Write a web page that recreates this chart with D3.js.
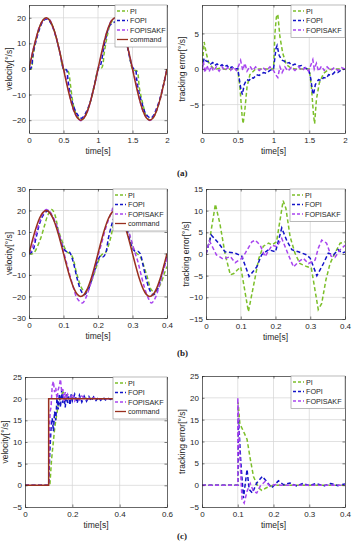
<!DOCTYPE html>
<html>
<head>
<meta charset="utf-8">
<script src="https://cdn.jsdelivr.net/npm/d3@7"></script>
<style>
  body { margin: 0; background: #fff; }
  svg { display: block; font-family: "Liberation Sans", Arial, sans-serif; }
</style>
</head>
<body>
<script>
// ---- data ----

// (a) 1 Hz sine tracking
var timeA = [0,0.05,0.1,0.15,0.2,0.25,0.3,0.35,0.4,0.45,0.5,0.55,0.6,0.65,0.7,0.75,0.8,0.85,0.9,0.95,1,1.05,1.1,1.15,1.2,1.25,1.3,1.35,1.4,1.45,1.5,1.55,1.6,1.65,1.7,1.75,1.8,1.85,1.9,1.95,2]
var commandA = [0,6.18,11.76,16.18,19.02,20,19.02,16.18,11.76,6.18,0,-6.18,-11.76,-16.18,-19.02,-20,-19.02,-16.18,-11.76,-6.18,0,6.18,11.76,16.18,19.02,20,19.02,16.18,11.76,6.18,0,-6.18,-11.76,-16.18,-19.02,-20,-19.02,-16.18,-11.76,-6.18,0]
var timePIa = [0,0.03,0.06,0.1,0.15,0.2,0.25,0.3,0.35,0.4,0.45,0.5,0.53,0.565,0.6,0.63,0.67,0.75,0.8,0.85,0.9,0.95,1,1.02,1.055,1.09,1.13,1.18,1.25,1.3,1.35,1.4,1.45,1.5,1.53,1.565,1.6,1.64,1.7,1.75,1.8,1.85,1.9,1.95,2]
var velPIa = [0,0,5.2,11,16,19,20,19,16.2,11.8,6.2,0,-0.5,-0.8,-6.1,-12.1,-16.7,-20,-19,-16.2,-11.8,-6.2,0,0.5,0.5,6.2,12.4,17.5,20,19,16.2,11.8,6.2,0,-0.5,-0.8,-7.5,-12.6,-18.4,-20,-19,-16.2,-11.8,-6.2,0]
var timeFOPIa = [0,0.03,0.06,0.1,0.15,0.2,0.25,0.3,0.35,0.4,0.45,0.5,0.52,0.545,0.565,0.59,0.625,0.69,0.76,0.86,0.95,1.01,1.035,1.05,1.08,1.115,1.18,1.3,1.39,1.49,1.52,1.545,1.56,1.585,1.63,1.7,1.77,1.86,1.95,2]
var velFOPIa = [0,0.5,6.2,10.8,15.4,18.5,19.5,18.6,15.9,11.6,6.1,0.1,0,-0.4,-4.3,-8.6,-12.7,-17.3,-19.2,-15,-6,0.5,1.4,2.9,7.7,12.2,17.3,18.5,12.6,1.3,0,-0.4,-3.8,-8.1,-12.7,-17.8,-19.1,-14.6,-6.1,0]
var velSAKFa = [0,6.5,11.5,16.5,18.8,19.8,19.2,16,11.9,6,0.3,-5.2,-11.5,-16.5,-18.8,-20.2,-18.8,-16.4,-11.6,-6.3,0,5.5,11.9,16,19.1,19.8,19.2,16.3,11.6,6.4,0.2,-5.3,-11.6,-16.4,-18.9,-20.1,-18.9,-16.1,-11.9,-6.2,0]

var timeErrPIa = [0,0.03,0.06,0.09,0.12,0.16,0.2,0.25,0.3,0.35,0.4,0.45,0.5,0.53,0.56,0.575,0.6,0.63,0.67,0.74,0.8,0.9,1,1.02,1.04,1.06,1.09,1.13,1.18,1.25,1.3,1.4,1.5,1.53,1.56,1.575,1.6,1.64,1.7,1.77,1.85,2]
var errPIa = [0,3.8,2.2,1,0.5,0.1,0,0.1,0,-0.1,0,0,0,-2.5,-6.5,-7.7,-5.7,-2.5,-0.8,-0.1,0,0,0,5,7.3,7.7,4.5,2.2,0.6,0.1,0,0,0,-2.5,-6.5,-7.7,-4.3,-2,-0.6,-0.1,0,0]
var timeErrFOPIa = [0,0.03,0.06,0.09,0.12,0.15,0.18,0.21,0.25,0.28,0.31,0.35,0.38,0.42,0.46,0.5,0.52,0.545,0.565,0.59,0.625,0.66,0.69,0.72,0.76,0.8,0.86,0.9,0.95,1,1.01,1.035,1.05,1.08,1.115,1.15,1.18,1.22,1.26,1.3,1.35,1.39,1.44,1.49,1.52,1.545,1.56,1.585,1.63,1.67,1.7,1.74,1.77,1.81,1.86,1.9,1.95,2]
var errFOPIa = [0,1.5,1.1,1,0.7,0.9,0.5,0.7,0.4,0.6,0.3,0.5,0.1,0.3,-0.1,0.1,-1.3,-2.9,-3.6,-2.2,-1.5,-1.6,-1.2,-1.3,-0.8,-0.9,-0.5,-0.6,-0.2,0,0.8,2.9,3.3,1.9,1.25,1.1,0.8,0.9,0.5,0.7,0.4,0.5,0.1,0,-1.3,-3.1,-3.6,-2.2,-1.5,-1.6,-1.2,-1.3,-0.8,-0.9,-0.4,-0.5,-0.1,0]
var timeErrSAKFa = [0,0.02,0.04,0.07,0.1,0.13,0.16,0.2,0.24,0.28,0.32,0.36,0.4,0.44,0.48,0.51,0.54,0.57,0.6,0.63,0.67,0.71,0.75,0.8,0.85,0.9,0.95,1,1.03,1.06,1.09,1.12,1.16,1.2,1.25,1.3,1.35,1.4,1.45,1.49,1.52,1.55,1.57,1.6,1.63,1.67,1.71,1.75,1.8,1.85,1.9,1.95,2]
var errSAKFa = [0,1,-0.5,0.5,-0.4,0.4,-0.3,0.3,-0.3,0.3,-0.2,0.2,-0.2,0.3,-0.2,0.4,1.2,-0.2,0.8,-0.3,0.4,-0.2,0.3,-0.2,0.2,-0.2,0.3,-0.2,-0.8,-1.2,0.3,-0.5,0.3,-0.3,0.2,-0.2,0.3,-0.2,0.2,-0.3,0.5,1.3,0,0.8,-0.3,0.4,-0.2,0.3,-0.2,0.2,-0.2,0.2,0]

// (b) 5 Hz sine tracking
var timeB = [0,0.01,0.02,0.03,0.04,0.05,0.06,0.07,0.08,0.09,0.1,0.11,0.12,0.13,0.14,0.15,0.16,0.17,0.18,0.19,0.2,0.21,0.22,0.23,0.24,0.25,0.26,0.27,0.28,0.29,0.3,0.31,0.32,0.33,0.34,0.35,0.36,0.37,0.38,0.39,0.4]
var commandB = [0,6.18,11.76,16.18,19.02,20,19.02,16.18,11.76,6.18,0,-6.18,-11.76,-16.18,-19.02,-20,-19.02,-16.18,-11.76,-6.18,0,6.18,11.76,16.18,19.02,20,19.02,16.18,11.76,6.18,0,-6.18,-11.76,-16.18,-19.02,-20,-19.02,-16.18,-11.76,-6.18,0]
var timePIb = [0,0.012,0.032,0.045,0.055,0.066,0.075,0.085,0.1,0.109,0.124,0.138,0.153,0.163,0.172,0.186,0.198,0.21,0.222,0.235,0.249,0.262,0.27,0.278,0.293,0.307,0.322,0.341,0.355,0.365,0.38,0.393,0.4]
var velPIb = [0,0,6.3,13,18,20.5,18,11,4,1,-1,-9.2,-16.2,-17.8,-16.2,-10.8,-5,-0.7,0.5,6.3,15.6,19.4,20,17,7.8,1,-1.5,-10,-17,-17.8,-14.6,-9,-6]
var timeFOPIb = [0,0.01,0.02,0.03,0.04,0.05,0.056,0.065,0.08,0.09,0.1,0.108,0.115,0.12,0.13,0.14,0.15,0.16,0.17,0.18,0.19,0.2,0.208,0.215,0.222,0.23,0.24,0.25,0.258,0.265,0.28,0.29,0.3,0.308,0.316,0.322,0.33,0.34,0.35,0.36,0.37,0.38,0.39,0.4]
var velFOPIb = [0,1,7,13.5,17.5,19.5,20,18,12.5,7,2.5,1,1,0,-5,-12,-17,-19.2,-17.5,-13,-8,-3,-1,-1.5,0,7,13.5,18,20,19,13,7.5,2.5,1,1,0,-5,-12,-17,-19.2,-17.5,-13,-7,-1.5]
var timeSAKFb = [0,0.01,0.02,0.03,0.04,0.05,0.06,0.07,0.08,0.09,0.1,0.11,0.12,0.13,0.14,0.155,0.165,0.175,0.185,0.195,0.2,0.21,0.22,0.23,0.24,0.245,0.255,0.265,0.275,0.285,0.295,0.305,0.315,0.325,0.335,0.345,0.355,0.365,0.375,0.385,0.395,0.4]
var velSAKFb = [0,3,9,14.5,18.5,20.5,19.5,17,13,7.5,1,-5,-11,-16.5,-21,-23,-20.5,-16,-10.5,-4,-1,4.5,10.5,15.5,19.5,22,20,19.5,17,12.5,7,1.5,-3.5,-10,-16,-20.5,-23,-21,-16.5,-10.5,-5,-2]

var timeErrPIb = [0,0.01,0.027,0.04,0.055,0.07,0.08,0.09,0.1,0.122,0.14,0.152,0.165,0.18,0.19,0.203,0.222,0.23,0.242,0.256,0.27,0.29,0.303,0.323,0.333,0.345,0.357,0.371,0.386,0.4]
var errPIb = [0,3,11.5,7,0,-4.8,-4.5,-3.7,-3,-13.3,-6,-1,1.8,2.5,2.1,2.8,12.3,10.5,4,0.2,-2.2,-2.9,-3.2,-12.8,-11.4,-6,-2.2,0.2,2.5,2.8]
var timeErrFOPIb = [0,0.015,0.036,0.055,0.084,0.103,0.124,0.146,0.16,0.18,0.2,0.218,0.233,0.247,0.266,0.29,0.3,0.319,0.338,0.352,0.367,0.38,0.392,0.4]
var errFOPIb = [0,4.4,2.5,0.5,0.2,-0.5,-5.2,-3,-0.2,1,0.5,6,3,1,0.5,-0.2,-1,-5,-2.2,0.2,-0.2,1,0.2,0.5]
var timeErrSAKFb = [0,0.01,0.03,0.05,0.07,0.084,0.103,0.113,0.132,0.142,0.156,0.17,0.19,0.204,0.218,0.237,0.252,0.266,0.28,0.295,0.314,0.323,0.333,0.347,0.36,0.371,0.386,0.4]
var errSAKFb = [0,3,-0.2,-1.2,-0.6,-2,-1,0.2,2.8,3.2,2,-0.6,2,1.7,3.6,-0.2,-3,-1.8,-1,-2.2,-1.4,1.3,3.2,2.5,-0.5,-0.8,1,2]

// (c) 20 deg/s step at 0.1 s
var timeCmdC = [0,0.1,0.1,0.4]
var commandC = [0,0,20,20]
var timePIc = [0,0.105,0.112,0.126,0.14,0.15,0.161,0.175,0.19,0.2,0.22,0.25,0.3,0.4]
var velPIc = [0,0,5.8,13.5,18.5,20.5,21.5,20.5,19.8,20.2,20,20.1,20,20]
var timeFOPIc = [0,0.1,0.105,0.11,0.115,0.12,0.125,0.13,0.135,0.14,0.145,0.15,0.155,0.16,0.165,0.17,0.175,0.18,0.185,0.19,0.195,0.2,0.21,0.22,0.23,0.24,0.25,0.26,0.27,0.28,0.29,0.3,0.31,0.32,0.33,0.34,0.35,0.36,0.38,0.4]
var velFOPIc = [0,0,8,13,15.5,12.5,17,15,20,17.5,21,18,22,19,20.5,18,21,19,20.5,18.5,21,19.5,21,19,20.8,19.2,20.6,19.4,20.5,19.5,20.4,19.6,20.3,19.6,20.3,19.7,20.2,19.8,20.1,20]
var timeSAKFc = [0,0.1,0.103,0.106,0.11,0.115,0.12,0.125,0.13,0.135,0.14,0.145,0.15,0.155,0.16,0.165,0.17,0.175,0.18,0.19,0.2,0.21,0.22,0.23,0.24,0.26,0.28,0.3,0.4]
var velSAKFc = [0,0,10,17,18,23,24,21.5,22.5,20,22,23,24.5,21.5,22.2,19.5,21.5,19.8,21,20,21,19.5,20.5,19.7,20.6,19.8,20.3,20,20]

var timeErrPIc = [0,0.1,0.101,0.106,0.115,0.126,0.135,0.144,0.158,0.167,0.18,0.2,0.4]
var errPIc = [0,0,19,14,12.5,10.5,6,2,-0.6,-1.2,-0.6,0,0]
var timeErrFOPIc = [0,0.1,0.102,0.108,0.116,0.126,0.132,0.141,0.153,0.169,0.18,0.195,0.214,0.228,0.246,0.265,0.283,0.3,0.32,0.34,0.36,0.38,0.4]
var errFOPIc = [0,0,15.5,6,-3,3.6,-1,-1.8,0.5,2,0.9,-0.6,1,0.1,0.5,-0.2,0.4,-0.1,0.4,-0.2,0.4,-0.1,0.3]
var timeErrSAKFc = [0,0.1,0.1001,0.105,0.112,0.118,0.126,0.135,0.144,0.153,0.163,0.177,0.19,0.205,0.22,0.4]
var errSAKFc = [0,0,20,8,-3.3,-4.1,-1.4,0.4,-1.4,-1.8,-0.2,0.9,-0.2,0.15,0,0]

var ticksA = [0,0.5,1,1.5,2]
var ticksB = [0,0.1,0.2,0.3,0.4]
var ticksC = [0,0.2,0.4,0.6]

// ---- drawing ----
var colPI = "#7cbf2a", colFOPI = "#1414c8", colSAKF = "#a845ef", colCmd = "#99301f"

var svg = d3.select("body").append("svg").attr("width", 355).attr("height", 550)

function zip(t, v) { return t.map(function(d, i) { return [d, v[i]] }) }

var clipId = 0
function panel(o) {
  var x = d3.scaleLinear().domain(o.xd).range([o.x0, o.x1])
  var y = d3.scaleLinear().domain(o.yd).range([o.y1, o.y0])
  var g = svg.append("g")
  var fmt = d3.format("~g")

  // grid
  g.selectAll(".gx").data(o.xt.slice(1, -1)).enter().append("line")
    .attr("x1", function(d) { return x(d) }).attr("x2", function(d) { return x(d) })
    .attr("y1", o.y0).attr("y2", o.y1).attr("stroke", "#d4d4d4").attr("stroke-width", 0.7)
  g.selectAll(".gy").data(o.yt.filter(function(d) { return d > o.yd[0] && d < o.yd[1] })).enter().append("line")
    .attr("y1", function(d) { return y(d) }).attr("y2", function(d) { return y(d) })
    .attr("x1", o.x0).attr("x2", o.x1).attr("stroke", "#d4d4d4").attr("stroke-width", 0.7)

  // series
  clipId++
  svg.append("clipPath").attr("id", "clip" + clipId).append("rect")
    .attr("x", o.x0).attr("y", o.y0).attr("width", o.x1 - o.x0).attr("height", o.y1 - o.y0)
  var sg = g.append("g").attr("clip-path", "url(#clip" + clipId + ")")
  o.series.forEach(function(s) {
    var line = d3.line().x(function(d) { return x(d[0]) }).y(function(d) { return y(d[1]) })
      .curve(s.smooth ? d3.curveCatmullRom : d3.curveLinear)
    sg.append("path").datum(zip(s.t, s.v)).attr("d", line)
      .attr("fill", "none").attr("stroke", s.color).attr("stroke-width", s.dash ? 1.5 : 1.5)
      .attr("stroke-dasharray", s.dash ? "4,2.5" : null)
  })

  // axes (inward ticks on all four sides)
  var ax = [
    [d3.axisBottom(x), "translate(0," + o.y1 + ")", true],
    [d3.axisTop(x), "translate(0," + o.y0 + ")", false],
  ]
  ax.forEach(function(a) {
    var gg = g.append("g").attr("transform", a[1])
      .call(a[0].tickValues(o.xt).tickSizeInner(-2.5).tickSizeOuter(0).tickPadding(4)
      .tickFormat(a[2] ? fmt : ""))
    styleAxis(gg)
  })
  var ay = [
    [d3.axisLeft(y), "translate(" + o.x0 + ",0)", true],
    [d3.axisRight(y), "translate(" + o.x1 + ",0)", false],
  ]
  ay.forEach(function(a) {
    var gg = g.append("g").attr("transform", a[1])
      .call(a[0].tickValues(o.yt).tickSizeInner(-2.5).tickSizeOuter(0).tickPadding(3)
      .tickFormat(a[2] ? fmt : ""))
    styleAxis(gg)
  })

  // labels
  g.append("text").attr("x", (o.x0 + o.x1) / 2).attr("y", o.y1 + 21)
    .attr("text-anchor", "middle").attr("font-size", 8.5).attr("fill", "#262626").text("time[s]")
  g.append("text").attr("transform", "translate(" + (o.x0 - 17) + "," + ((o.y0 + o.y1) / 2) + ") rotate(-90)")
    .attr("text-anchor", "middle").attr("font-size", 8.5).attr("fill", "#262626").text(o.ylabel)

  // legend
  var lg = g.append("g")
  var n = o.series.length
  var lx0 = o.x1 - o.legW
  lg.append("rect").attr("x", lx0).attr("y", o.y0).attr("width", o.legW).attr("height", 4 + n * 9.5)
    .attr("fill", "#fff").attr("stroke", "#8c8c8c").attr("stroke-width", 0.6)
  o.series.forEach(function(s, i) {
    var yy = o.y0 + 6 + i * 9.5
    lg.append("line").attr("x1", lx0 + 2).attr("x2", lx0 + 13).attr("y1", yy).attr("y2", yy)
      .attr("stroke", s.color).attr("stroke-width", 1.3).attr("stroke-dasharray", s.dash ? "3,2" : null)
    lg.append("text").attr("x", lx0 + 15).attr("y", yy + 2.5).attr("font-size", 7.2)
      .attr("fill", "#262626").text(s.name)
  })
}

function styleAxis(gg) {
  gg.select(".domain").attr("stroke", "#262626").attr("stroke-width", 0.7)
  gg.selectAll(".tick line").attr("stroke", "#262626").attr("stroke-width", 0.6)
  gg.selectAll(".tick text").attr("font-size", 8).attr("fill", "#262626")
    .attr("font-family", "Liberation Sans, Arial, sans-serif")
}

function velSeries(tPI, vPI, tF, vF, tS, vS, tC, vC, smooth) {
  return [
    {name: "PI", t: tPI, v: vPI, color: colPI, dash: true, smooth: smooth},
    {name: "FOPI", t: tF, v: vF, color: colFOPI, dash: true, smooth: smooth},
    {name: "FOPISAKF", t: tS, v: vS, color: colSAKF, dash: true, smooth: smooth},
    {name: "command", t: tC, v: vC, color: colCmd, dash: false, smooth: smooth}
  ]
}
function errSeries(tPI, vPI, tF, vF, tS, vS) {
  return [
    {name: "PI", t: tPI, v: vPI, color: colPI, dash: true},
    {name: "FOPI", t: tF, v: vF, color: colFOPI, dash: true},
    {name: "FOPISAKF", t: tS, v: vS, color: colSAKF, dash: true}
  ]
}

// (a)
panel({x0: 29, x1: 167, y0: 5, y1: 133, xd: [0, 2], yd: [-25, 25], xt: ticksA, yt: [-20, -10, 0, 10, 20],
  ylabel: "velocity[°/s]", legW: 52,
  series: velSeries(timePIa, velPIa, timeFOPIa, velFOPIa, timeA, velSAKFa, timeA, commandA, true)})
panel({x0: 202, x1: 345, y0: 5, y1: 133, xd: [0, 2], yd: [-9, 9], xt: ticksA, yt: [-5, 0, 5],
  ylabel: "tracking error[°/s]", legW: 54,
  series: errSeries(timeErrPIa, errPIa, timeErrFOPIa, errFOPIa, timeErrSAKFa, errSAKFa)})

// (b)
panel({x0: 29, x1: 167, y0: 189, y1: 318, xd: [0, 0.4], yd: [-30, 30], xt: ticksB, yt: [-30, -20, -10, 0, 10, 20, 30],
  ylabel: "velocity[°/s]", legW: 54,
  series: velSeries(timePIb, velPIb, timeFOPIb, velFOPIb, timeSAKFb, velSAKFb, timeB, commandB, true)})
panel({x0: 206, x1: 345, y0: 189, y1: 319, xd: [0, 0.4], yd: [-15, 15], xt: ticksB, yt: [-15, -10, -5, 0, 5, 10, 15],
  ylabel: "tracking error[°/s]", legW: 55,
  series: errSeries(timeErrPIb, errPIb, timeErrFOPIb, errFOPIb, timeErrSAKFb, errSAKFb)})

// (c)
panel({x0: 25, x1: 167, y0: 377, y1: 507, xd: [0, 0.6], yd: [-5, 25], xt: ticksC, yt: [-5, 0, 5, 10, 15, 20, 25],
  ylabel: "velocity[°/s]", legW: 54,
  series: velSeries(timePIc, velPIc, timeFOPIc, velFOPIc, timeSAKFc, velSAKFc, timeCmdC, commandC, false)})
panel({x0: 202, x1: 345, y0: 376, y1: 507, xd: [0, 0.4], yd: [-5, 25], xt: ticksB, yt: [-5, 0, 5, 10, 15, 20, 25],
  ylabel: "tracking error[°/s]", legW: 54,
  series: errSeries(timeErrPIc, errPIc, timeErrFOPIc, errFOPIc, timeErrSAKFc, errSAKFc)})

// sub-figure captions
var caps = [["(a)", 173], ["(b)", 353], ["(c)", 536]]
caps.forEach(function(c) {
  svg.append("text").attr("x", 177).attr("y", c[1] + 3).attr("font-family", "Liberation Serif, serif")
    .attr("font-weight", "bold").attr("font-size", 9).attr("fill", "#222").text(c[0])
})
</script>
</body>
</html>
